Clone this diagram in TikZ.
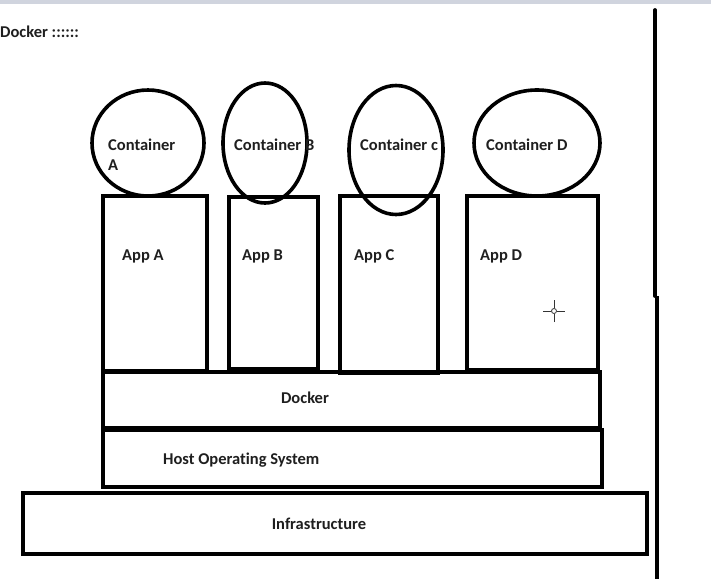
\documentclass[tikz,border=0pt]{standalone}
\usepackage{fontspec}
\setmainfont[Ligatures=NoCommon]{Carlito}
\usetikzlibrary{shapes.geometric}
\definecolor{topbar}{RGB}{208,212,222}
\begin{document}
\begin{tikzpicture}[x=1pt,y=-1pt,
  box/.style={draw=black,line width=3.6pt,rectangle,inner sep=0pt,outer sep=0pt,anchor=north west},
  cont/.style={draw=black,line width=3.6pt,ellipse,inner sep=0pt,outer sep=0pt},
  lbl/.style={font=\bfseries\fontsize{16.5}{18}\selectfont,text=black!88,inner sep=0pt,anchor=west},
  thick line/.style={line width=3.8pt}]
\useasboundingbox (0,0) rectangle (711,579);
\fill[white] (0,0) rectangle (711,579);
\fill[topbar] (0,0) rectangle (711,4);
% apps
\node[box,minimum width=104pt,minimum height=175pt] (appa) at (103,196) {};
\node[box,minimum width=89pt,minimum height=172pt] (appb) at (229,197) {};
\node[box,minimum width=98pt,minimum height=177pt] (appc) at (340,196) {};
\node[box,minimum width=131pt,minimum height=174pt] (appd) at (467,196) {};
% layers
\node[box,minimum width=497pt,minimum height=56pt] (docker) at (103,372) {};
\node[box,minimum width=499pt,minimum height=57pt] (host) at (103,430) {};
\node[box,minimum width=624pt,minimum height=61pt] (infra) at (23,493) {};
% containers
\node[cont,minimum width=112pt,minimum height=106pt] (ca) at (148,143) {};
\node[cont,minimum width=84pt,minimum height=120pt] (cb) at (265,143) {};
\node[cont,minimum width=94pt,minimum height=129pt] (cc) at (396,150) {};
\node[cont,minimum width=126pt,minimum height=106pt] (cd) at (537,143) {};
% texts
\node[lbl] (title) at (0,32) {Docker ::::::};
\node[lbl] (ta) at (108,145) {Container};
\node[lbl] (ta2) at (108,165) {A};
\node[lbl] (tb) at (234,145) {Container B};
\node[lbl] (tc) at (360,145) {Container c};
\node[lbl] (td) at (486,145) {Container D};
\node[lbl] (la) at (122,256) {App A};
\node[lbl] (lb) at (242,256) {App B};
\node[lbl] (lc) at (354,256) {App C};
\node[lbl] (ld) at (480,256) {App D};
\node[lbl,anchor=center] (ldocker) at (305,398) {Docker};
\node[lbl] (lhost) at (163,460) {Host Operating System};
\node[lbl,anchor=center] (linfra) at (319,524) {Infrastructure};
% vertical line
\coordinate (v1) at (655,10);
\coordinate (v2) at (655,296);
\coordinate (v3) at (657,296);
\coordinate (v4) at (657,579);
\draw[thick line,line cap=round] (v1) -- (v2);
\draw[thick line] (v3) -- (v4);
% cursor
\coordinate (cur) at (554,311);
\draw[line width=1pt,black!80] ([xshift=-11pt]cur) -- ([xshift=-3pt]cur)
  ([xshift=3pt]cur) -- ([xshift=11pt]cur)
  ([yshift=-11pt]cur) -- ([yshift=-3pt]cur)
  ([yshift=3pt]cur) -- ([yshift=11pt]cur);
\draw[line width=0.8pt,black!80] (cur) circle (2.5pt);
\end{tikzpicture}
\end{document}
